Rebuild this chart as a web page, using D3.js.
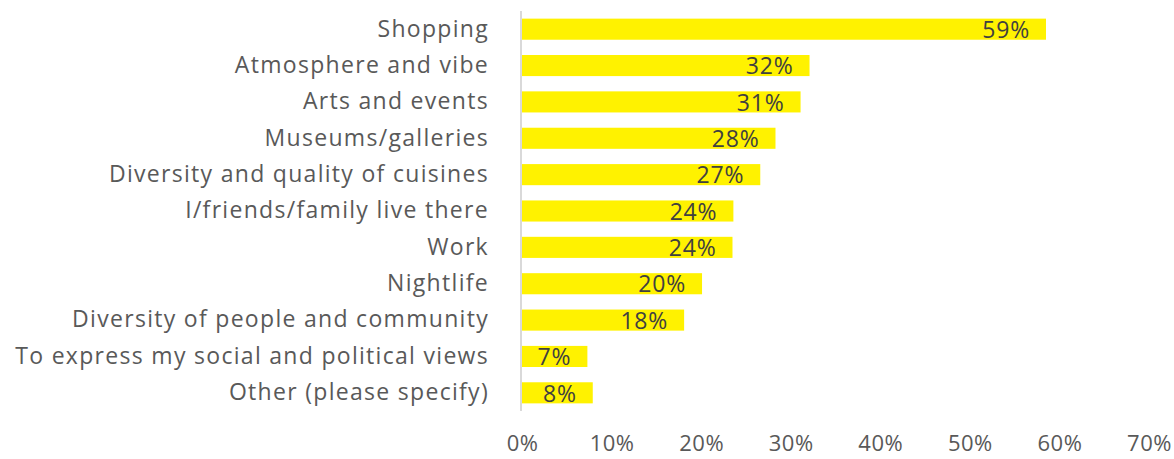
<!DOCTYPE html>
<html>
<head>
<meta charset="utf-8">
<script src="https://cdn.jsdelivr.net/npm/d3@7"></script>
<style>
  body { margin: 0; background: #fff; }
  svg { display: block; font-family: "Open Sans", sans-serif; }
</style>
</head>
<body>
<div id="chart"></div>
<script>
// categories, top to bottom
const categories = [
  "Shopping",
  "Atmosphere and vibe",
  "Arts and events",
  "Museums/galleries",
  "Diversity and quality of cuisines",
  "I/friends/family live there",
  "Work",
  "Nightlife",
  "Diversity of people and community",
  "To express my social and political views",
  "Other (please specify)"
];
// share of respondents, %
const values = [58.5, 32.1, 31.1, 28.3, 26.6, 23.6, 23.5, 20.1, 18.1, 7.3, 7.9];
const xTicks = [0, 10, 20, 30, 40, 50, 60, 70];

let svgWidth = 1174;
let svgHeight = 459;

let svg = d3.select("#chart")
  .append("svg")
  .attr("width", svgWidth)
  .attr("height", svgHeight);

let xScale = d3.scaleLinear()
  .domain([0, 70])
  .range([522, 1149]);

let yScale = d3.scaleBand()
  .domain(categories)
  .range([11, 411])
  .paddingInner(0.42)
  .paddingOuter(0.21);

//bars
svg.selectAll("rect.bar")
  .data(values)
  .enter()
  .append("rect")
  .attr("class", "bar")
  .attr("x", xScale(0))
  .attr("y", (d, i) => yScale(categories[i]))
  .attr("width", d => xScale(d) - xScale(0))
  .attr("height", yScale.bandwidth())
  .attr("fill", "#fff200");

//value labels, inside end
svg.selectAll("text.val")
  .data(values)
  .enter()
  .append("text")
  .attr("class", "val")
  .attr("x", d => xScale(d) - 16)
  .attr("y", (d, i) => yScale(categories[i]) + yScale.bandwidth() / 2)
  .attr("dy", "0.38em")
  .attr("text-anchor", "end")
  .attr("font-size", 23)
  .attr("letter-spacing", "0.8px")
  .attr("fill", "#404040")
  .text(d => Math.round(d) + "%");

//category axis
let yAxis = d3.axisLeft(yScale).tickSize(0).tickPadding(33);
let yG = svg.append("g")
  .attr("transform", "translate(" + xScale(0) + ",0)")
  .call(yAxis);
yG.select(".domain").attr("stroke", "#d9d9d9").attr("stroke-width", 2)
  .attr("d", "M-1,11V411");
yG.selectAll("text")
  .attr("font-size", 23)
  .attr("letter-spacing", "1.3px")
  .attr("font-family", "'Open Sans', sans-serif")
  .attr("fill", "#595959");

//value axis, labels only
let xAxis = d3.axisBottom(xScale)
  .tickValues(xTicks)
  .tickSize(0)
  .tickFormat(d => d + "%");
let xG = svg.append("g")
  .attr("transform", "translate(0,432)")
  .call(xAxis);
xG.select(".domain").remove();
xG.selectAll("text")
  .attr("font-size", 22)
  .attr("letter-spacing", "0.5px")
  .attr("font-family", "'Open Sans', sans-serif")
  .attr("fill", "#595959");
</script>
</body>
</html>
